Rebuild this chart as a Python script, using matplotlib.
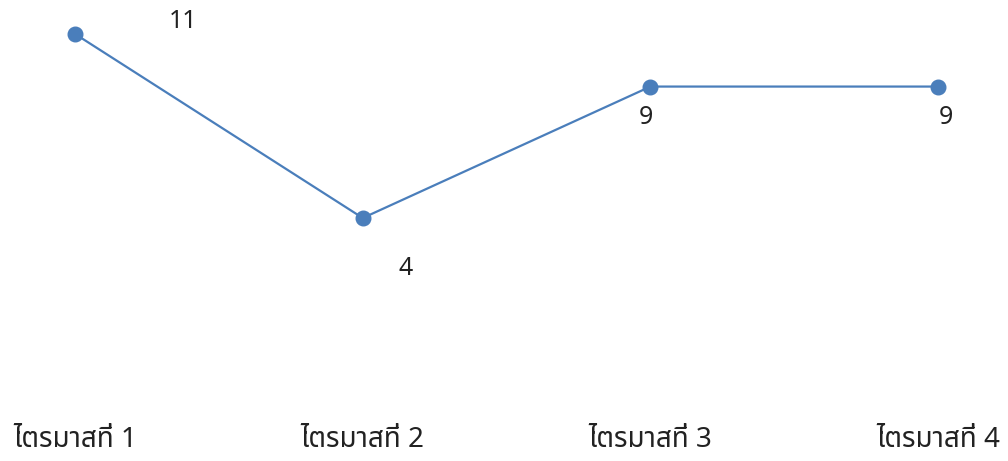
import matplotlib
matplotlib.use('Agg')
import matplotlib.pyplot as plt

# data
quarters = ['ไตรมาสที่ 1', 'ไตรมาสที่ 2', 'ไตรมาสที่ 3', 'ไตรมาสที่ 4']
values = [11, 4, 9, 9]
# label offsets (points) for each value label
label_offsets = [(78, 9), (31, -36), (-3, -22), (6, -22)]

plt.rcParams['font.family'] = ['Noto Sans Thai', 'Noto Sans', 'DejaVu Sans']

fig = plt.figure(figsize=(10.08, 4.61), dpi=100)
ax = fig.add_axes([0, 0.1, 1, 0.9])

x = list(range(len(quarters)))
ax.plot(x, values, color='#4A7EBB', linewidth=1.6, marker='o', markersize=10.5,
        markerfacecolor='#4A7EBB', markeredgecolor='#4A7EBB')

for xi, v, off in zip(x, values, label_offsets):
    ax.annotate(str(v), (xi, v), xytext=off, textcoords='offset points',
                ha='center', va='center', fontsize=18, color='#222222')

ax.set_xlim(-0.261, 3.243)
ax.set_ylim(-3.49, 12.293)
ax.set_xticks(x)
ax.set_xticklabels(quarters, fontsize=20, color='#222222')
ax.tick_params(axis='x', length=0, pad=8)
ax.set_yticks([])
for s in ax.spines.values():
    s.set_visible(False)

fig.savefig('out.png', dpi=100)
